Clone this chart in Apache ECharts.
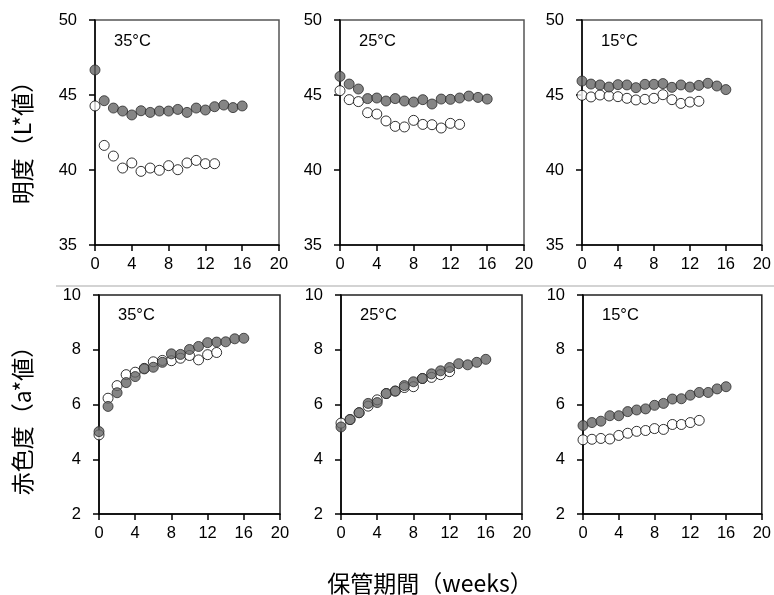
<!DOCTYPE html>
<html>
<head>
<meta charset="utf-8">
<script src="https://cdn.jsdelivr.net/npm/echarts@6/dist/echarts.min.js"></script>
<style>html,body{margin:0;padding:0;background:#fff}#c{width:774px;height:595px}</style>
</head>
<body>
<div id="c"></div>
<script>
const weeks = [0,1,2,3,4,5,6,7,8,9,10,11,12,13,14,15,16];
const temps = ['35°C','25°C','15°C'];
const xTicks = [0,4,8,12,16,20];
const L35_filled = [46.67,44.62,44.13,43.93,43.67,43.95,43.84,43.93,43.93,44.04,43.84,44.13,44.0,44.22,44.33,44.16,44.27];
const L35_open   = [44.27,41.64,40.93,40.13,40.47,39.91,40.13,39.98,40.29,40.02,40.47,40.64,40.42,40.42];
const L25_filled = [46.24,45.73,45.4,44.76,44.8,44.6,44.76,44.6,44.53,44.69,44.4,44.73,44.71,44.8,44.93,44.84,44.73];
const L25_open   = [45.29,44.69,44.56,43.82,43.73,43.27,42.91,42.87,43.31,43.04,43.02,42.8,43.11,43.04];
const L15_filled = [45.93,45.73,45.67,45.53,45.69,45.67,45.49,45.71,45.71,45.76,45.51,45.67,45.53,45.64,45.78,45.6,45.36];
const L15_open   = [44.98,44.87,45.0,44.93,44.89,44.78,44.67,44.71,44.78,45.02,44.69,44.44,44.53,44.58];
const a35_filled = [5.01,5.93,6.43,6.8,7.02,7.3,7.36,7.54,7.85,7.83,8.01,8.12,8.26,8.28,8.29,8.4,8.42];
const a35_open   = [4.89,6.23,6.69,7.09,7.18,7.32,7.56,7.61,7.6,7.69,7.79,7.63,7.82,7.9];
const a25_filled = [5.18,5.45,5.7,6.04,6.07,6.4,6.49,6.69,6.83,6.95,7.12,7.23,7.35,7.49,7.45,7.54,7.65];
const a25_open   = [5.32,5.45,5.7,5.94,6.17,6.4,6.49,6.62,6.65,6.95,6.99,7.09,7.2];
const a15_filled = [5.23,5.34,5.39,5.59,5.59,5.74,5.8,5.84,5.97,6.04,6.2,6.21,6.34,6.44,6.44,6.57,6.65];
const a15_open   = [4.71,4.73,4.76,4.74,4.87,4.95,5.02,5.05,5.12,5.09,5.27,5.27,5.34,5.42];

const panels = [
  {open:L35_open, filled:L35_filled, min:35, max:50, step:5, grid:{left:95, top:20, width:184, height:225}, t:temps[0], bc:'#555'},
  {open:L25_open, filled:L25_filled, min:35, max:50, step:5, grid:{left:340, top:20, width:184, height:225}, t:temps[1], bc:'#555'},
  {open:L15_open, filled:L15_filled, min:35, max:50, step:5, grid:{left:582, top:20, width:184, height:225}, t:temps[2], bc:'#555'},
  {open:a35_open, filled:a35_filled, min:2, max:10, step:2, grid:{left:99, top:295, width:181, height:219}, t:temps[0], bc:'#222'},
  {open:a25_open, filled:a25_filled, min:2, max:10, step:2, grid:{left:341, top:295, width:181, height:219}, t:temps[1], bc:'#222'},
  {open:a15_open, filled:a15_filled, min:2, max:10, step:2, grid:{left:583, top:295, width:181, height:219}, t:temps[2], bc:'#222'}
];
const lab = {color:'#000', fontFamily:'Liberation Sans, Arial, sans-serif', fontSize:16.5};
const grids=[], xAxes=[], yAxes=[], series=[], graphics=[];
panels.forEach((p,i)=>{
  grids.push(Object.assign({show:true, borderColor:p.bc, borderWidth:1.5, backgroundColor:'#fff'}, p.grid));
  xAxes.push({type:'value', gridIndex:i, min:xTicks[0], max:xTicks[xTicks.length-1], interval:4,
    axisLine:{show:true, onZero:false, lineStyle:{color:'#000', width:1.5}},
    axisTick:{show:true, length:6, lineStyle:{color:'#000', width:1.5}},
    axisLabel:Object.assign({margin:11}, lab), splitLine:{show:false}});
  yAxes.push({type:'value', gridIndex:i, min:p.min, max:p.max, interval:p.step,
    axisLine:{show:true, onZero:false, lineStyle:{color:'#000', width:1.5}},
    axisTick:{show:true, length:6, lineStyle:{color:'#000', width:1.5}},
    axisLabel:Object.assign({margin:18}, lab), splitLine:{show:false}});
  series.push({type:'scatter', xAxisIndex:i, yAxisIndex:i, symbolSize:10, z:2,
    data:p.open.map((v,k)=>[weeks[k],v]),
    itemStyle:{color:'#fff', borderColor:'#000', borderWidth:1}});
  series.push({type:'scatter', xAxisIndex:i, yAxisIndex:i, symbolSize:10, z:3,
    data:p.filled.map((v,k)=>[weeks[k],v]),
    itemStyle:{color:'#666', borderColor:'#2a2a2a', borderWidth:1}});
  graphics.push({type:'text', left:p.grid.left+19, top:p.grid.top+(i<3?13:12),
    style:{text:p.t, fill:'#000', font:'16.5px "Liberation Sans", Arial, sans-serif'}});
});
graphics.push({type:'line', shape:{x1:56, y1:286, x2:774, y2:286}, style:{stroke:'#c4c4c4', lineWidth:1.5}});
graphics.push({type:'text', x:22, y:137, rotation:Math.PI/2,
  style:{text:'明度（L*値）', fill:'#000', font:'23px "Noto Sans CJK JP", sans-serif', align:'center', verticalAlign:'middle'}});
graphics.push({type:'text', x:22, y:415, rotation:Math.PI/2,
  style:{text:'赤色度（a*値）', fill:'#000', font:'23px "Noto Sans CJK JP", sans-serif', align:'center', verticalAlign:'middle'}});
graphics.push({type:'text', x:430, y:583,
  style:{text:'保管期間（weeks）', fill:'#000', font:'23px "Noto Sans CJK JP", sans-serif', align:'center', verticalAlign:'middle'}});

const chart = echarts.init(document.getElementById('c'), null, {renderer:'canvas'});
chart.setOption({animation:false, backgroundColor:'#fff', grid:grids, xAxis:xAxes, yAxis:yAxes, series:series, graphic:graphics});
</script>
</body>
</html>
